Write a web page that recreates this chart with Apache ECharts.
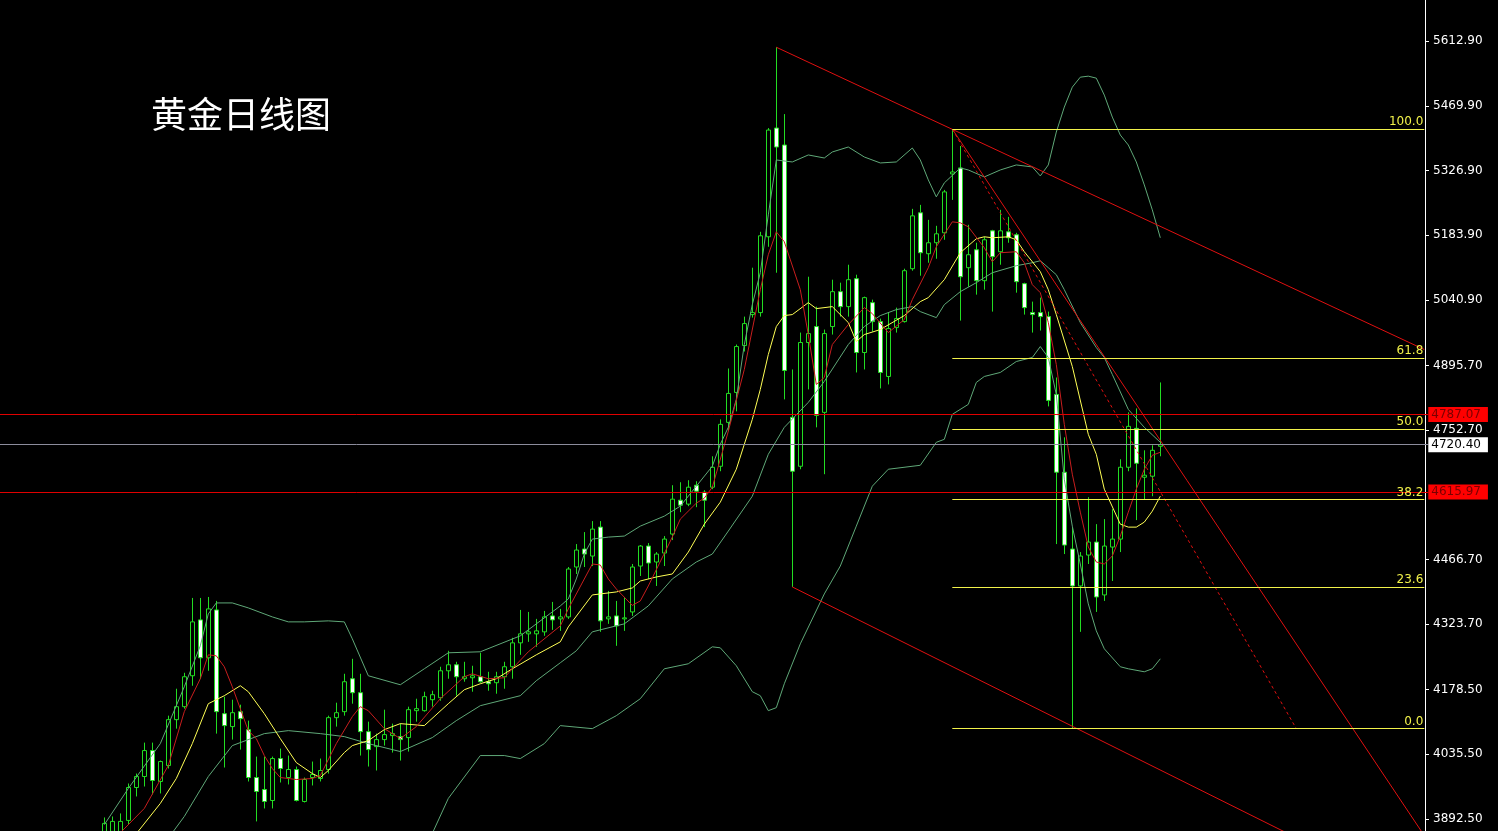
<!DOCTYPE html>
<html><head><meta charset="utf-8">
<script src="https://cdn.jsdelivr.net/npm/echarts@6/dist/echarts.min.js"></script>
<style>html,body{margin:0;padding:0;background:#000;}#c{width:1498px;height:831px;}</style>
</head><body><div id="c"></div>
<script>
// ---------- DATA (daily gold candles) ----------
const candleOpen = [3860.7,3865.1,3860.7,3889.4,3962.2,3986.5,4043.9,3975.5,4010.8,4112.3,
4141.0,4209.4,4333.0,4249.1,4355.0,4125.5,4096.9,4130.0,4090.2,3984.3,
3957.8,3933.5,4026.2,3984.3,4002.0,3931.3,3984.3,3982.1,4002.0,4116.7,
4130.0,4202.8,4171.9,4085.8,4052.7,4068.2,4077.0,4074.8,4072.6,4132.2,
4132.2,4156.4,4160.8,4220.4,4233.7,4202.8,4205.0,4207.2,4196.2,4194.0,
4207.2,4229.3,4282.2,4302.1,4302.1,4306.5,4341.8,4335.2,4339.6,4449.9,
4489.7,4474.2,4538.2,4335.2,4341.8,4335.2,4350.6,4452.1,4496.3,4461.0,
4480.8,4522.8,4597.8,4589.0,4630.9,4615.5,4626.5,4672.8,4769.9,4836.1,
4939.8,5008.3,5012.7,5180.4,5420.9,5383.4,4781.0,4672.8,4946.5,4981.8,
4792.0,4981.8,5059.0,5025.9,5087.7,4924.4,5034.7,4992.8,4871.4,4979.6,
4992.8,5109.8,5233.4,5142.9,5167.2,5189.2,5319.4,5332.7,5112.0,5151.7,
5083.3,5193.6,5147.3,5191.4,5184.8,5076.7,5012.7,5012.7,5003.8,4831.7,
4659.6,4489.7,4408.0,4476.4,4505.1,4388.2,4494.1,4511.7,4670.6,4756.7,
4648.5,4650.8,4717.0];
const candleClose = [3882.8,3887.2,3887.2,3962.2,3986.5,4043.9,3977.7,4019.6,4112.3,4141.0,
4207.2,4328.6,4249.1,4357.3,4130.0,4099.1,4127.7,4114.5,3984.3,3953.4,
3931.3,4026.2,4004.2,4002.0,3933.5,3979.9,3990.9,3999.8,4116.7,4127.7,
4196.2,4171.9,4085.8,4046.1,4068.2,4079.2,4081.4,4068.2,4134.4,4136.6,
4163.1,4167.5,4220.4,4233.7,4207.2,4207.2,4209.4,4196.2,4191.7,4207.2,
4229.3,4282.2,4302.1,4306.5,4308.7,4339.6,4333.0,4339.6,4445.5,4487.5,
4478.6,4533.8,4330.8,4339.6,4319.7,4337.4,4449.9,4496.3,4458.8,4478.6,
4511.7,4600.0,4586.8,4626.5,4617.7,4597.8,4670.6,4765.5,4833.9,4937.6,
4988.4,5012.7,5182.6,5416.5,5379.0,4884.7,4661.8,4946.5,4966.3,4785.4,
4966.3,5059.0,5025.9,5085.5,4924.4,5045.8,4992.8,4880.3,4977.4,4999.4,
5105.4,5226.7,5145.1,5167.2,5187.0,5279.7,5323.8,5092.1,5140.7,5083.3,
5173.8,5136.3,5193.6,5178.2,5081.1,5023.7,5008.3,5003.8,4818.5,4659.6,
4498.5,4408.0,4474.2,4505.1,4383.7,4496.3,4511.7,4670.6,4761.1,4679.4,
4653.0,4708.1,4720.4];
const candleLow = [3849.7,3854.1,3854.1,3880.6,3942.4,3964.4,3946.8,3949.0,4004.2,4092.4,
4136.6,4187.3,4202.8,4220.4,4081.4,4006.4,4068.2,4046.1,3975.5,3887.2,
3915.9,3915.9,3973.3,3968.9,3931.3,3929.1,3966.7,3975.5,3993.1,4096.9,
4121.1,4147.6,4032.9,4008.6,3999.8,4054.9,4039.5,4021.8,4041.7,4107.9,
4130.0,4141.0,4154.2,4202.8,4165.3,4196.2,4174.1,4194.0,4176.3,4169.7,
4180.7,4202.8,4255.7,4284.4,4273.4,4297.7,4310.9,4308.7,4335.2,4434.5,
4449.9,4452.1,4306.5,4324.2,4275.6,4308.7,4341.8,4430.1,4423.5,4408.0,
4452.1,4509.5,4571.3,4584.6,4582.3,4538.2,4622.1,4661.8,4750.1,4794.2,
4926.6,5001.6,5003.8,5158.3,5100.9,4820.7,4405.8,4666.2,4842.8,4758.9,
4655.2,4964.1,5003.8,5003.8,4880.3,4886.9,4970.7,4845.0,4853.8,4968.5,
4990.6,5105.4,5094.3,5123.0,5131.8,5173.8,5262.0,4995.0,5070.1,5052.4,
5063.4,5014.9,5118.6,5167.2,5056.8,5008.3,4968.5,4973.0,4805.2,4500.7,
4478.6,4092.4,4306.5,4456.6,4350.6,4374.9,4419.0,4483.0,4661.8,4553.7,
4600.0,4606.6,4694.9];
const candleHigh = [3896.0,3898.2,3904.9,3971.1,3993.1,4061.5,4061.5,4021.8,4121.1,4180.7,
4216.0,4381.5,4381.5,4383.7,4374.9,4163.1,4156.4,4145.4,4110.1,4030.6,
4030.6,4030.6,4048.3,4032.9,4008.6,3984.3,4019.6,4026.2,4121.1,4149.8,
4213.8,4246.9,4213.8,4107.9,4081.4,4134.4,4103.5,4103.5,4141.0,4158.6,
4174.1,4176.3,4229.3,4264.6,4240.3,4240.3,4231.5,4260.2,4218.2,4218.2,
4240.3,4293.3,4355.0,4350.6,4335.2,4352.8,4372.7,4357.3,4449.9,4500.7,
4527.2,4551.5,4551.5,4397.0,4374.9,4383.7,4456.6,4498.5,4502.9,4483.0,
4518.4,4630.9,4637.5,4641.9,4639.7,4619.9,4694.9,4776.5,4889.1,4942.1,
5003.8,5112.0,5191.4,5420.9,5599.7,5451.8,4886.9,4968.5,5092.1,5025.9,
4975.2,5085.5,5078.9,5118.6,5096.5,5048.0,5041.4,4999.4,5012.7,5023.7,
5109.8,5242.2,5251.0,5217.9,5204.7,5284.1,5418.7,5381.2,5206.9,5167.2,
5180.4,5195.8,5240.0,5224.5,5189.2,5078.9,5037.0,5045.8,5014.9,4869.2,
4736.8,4538.2,4483.0,4604.4,4544.8,4555.9,4577.9,4688.3,4792.0,4800.8,
4708.1,4719.2,4858.2];

// Indicator lines as [candle index, value]
const maRed = [[2,3862],[5,3915.9],[8,4010.8],[10,4130.0],[12,4202.8],[13,4255.7],[14,4253.5],[15,4229.3],[16,4185.1],[18,4088.0],[19,4070.4],[20,4032.9],[21,4004.2],[22,3984.3],[24,3979.9],[26,3982.1],[27,3988.7],[29,4059.3],[31,4118.9],[32,4141.0],[33,4132.2],[35,4092.4],[37,4070.4],[39,4096.9],[42,4158.6],[45,4207.2],[46,4213.8],[48,4202.8],[50,4205.0],[51,4224.8],[53,4262.4],[57,4319.7],[58,4357.3],[61,4456.6],[62,4454.4],[63,4423.5],[64,4401.4],[66,4365.0],[67,4374.9],[68,4408.0],[71,4516.1],[72,4555.9],[74,4591.2],[75,4602.2],[76,4626.5],[78,4750.1],[80,4886.9],[82,5063.4],[83,5140.7],[84,5191.4],[85,5169.4],[87,5063.4],[88,4964.1],[89,4853.8],[90,4869.2],[91,4942.1],[93,4986.2],[95,5023.7],[96,5010.5],[98,4968.5],[100,4997.2],[101,5041.4],[103,5112.0],[104,5158.3],[106,5213.5],[107,5211.3],[108,5202.5],[110,5156.1],[111,5125.2],[112,5145.1],[114,5147.3],[115,5123.0],[116,5074.5],[117,5056.8],[118,4990.6],[119,4897.9],[120,4765.5],[121,4655.2],[122,4571.3],[123,4494.1],[124,4461.0],[125,4456.6],[126,4474.2],[127,4518.4],[128,4571.3],[129,4622.1],[130,4666.2],[131,4697.1],[132,4703.7]];
const maYellow = [[4,3860],[7,3926.9],[9,3982.1],[11,4059.3],[13,4147.6],[15,4165.3],[17,4187.3],[18,4174.1],[20,4125.5],[22,4070.4],[24,4017.4],[26,3993.1],[27,3984.3],[28,3999.8],[30,4039.5],[31,4054.9],[33,4066.0],[35,4090.2],[37,4103.5],[40,4099.1],[43,4147.6],[45,4178.5],[47,4191.7],[49,4202.8],[51,4224.8],[54,4255.7],[57,4284.4],[58,4317.5],[61,4388.2],[64,4394.8],[66,4403.6],[67,4419.0],[69,4427.9],[71,4434.5],[73,4483.0],[75,4544.8],[77,4593.4],[79,4666.2],[81,4776.5],[82,4842.8],[83,4920.0],[84,4981.8],[85,5006.1],[86,5008.3],[88,5034.7],[89,5021.5],[91,5025.9],[93,4990.6],[94,4948.7],[95,4964.1],[97,4975.2],[100,5006.1],[102,5037.0],[103,5045.8],[105,5085.5],[107,5145.1],[109,5176.0],[110,5180.4],[111,5178.2],[113,5180.4],[114,5173.8],[115,5147.3],[117,5103.2],[118,5063.4],[119,5008.3],[121,4893.5],[123,4743.4],[124,4699.3],[125,4622.1],[127,4544.8],[128,4538.2],[129,4538.2],[130,4549.2],[131,4573.5],[132,4606.6]];
const bollUpper = [[0,3880],[3,3960.0],[7,4059.3],[10,4185.1],[12,4275.6],[13,4346.2],[14,4370.5],[16,4370.5],[18,4359.5],[21,4339.6],[23,4328.6],[25,4328.6],[28,4330.8],[30,4328.6],[31,4291.1],[33,4209.4],[37,4189.5],[40,4224.8],[43,4260.2],[47,4262.4],[52,4297.7],[57,4363.9],[58,4379.3],[59,4423.5],[60,4478.6],[61,4511.7],[63,4516.1],[65,4518.4],[67,4540.4],[70,4562.5],[72,4584.6],[74,4628.7],[76,4672.8],[77,4721.4],[78,4758.9],[79,4820.7],[80,4942.1],[81,5030.3],[82,5100.9],[83,5228.9],[84,5350.3],[86,5345.9],[88,5361.4],[90,5354.7],[91,5368.0],[93,5379.0],[95,5356.9],[97,5343.7],[99,5345.9],[101,5376.8],[102,5350.3],[103,5306.2],[104,5268.7],[105,5299.6],[107,5332.7],[108,5328.2],[110,5312.8],[112,5328.2],[114,5339.3],[116,5334.9],[117,5315.0],[118,5339.3],[119,5412.1],[120,5467.3],[121,5511.4],[122,5533.5],[123,5535.7],[124,5531.3],[125,5493.8],[126,5445.2],[127,5405.5],[128,5383.4],[129,5345.9],[130,5295.1],[131,5240.0],[132,5178.2]];
const bollMid = [[8,3850],[10,3898.2],[13,3986.5],[16,4054.9],[20,4081.4],[23,4088.0],[27,4081.4],[30,4074.8],[33,4059.3],[37,4041.7],[41,4072.6],[44,4110.1],[47,4143.2],[52,4165.3],[54,4198.4],[57,4238.1],[59,4264.6],[61,4306.5],[65,4324.2],[68,4363.9],[71,4423.5],[74,4461.0],[76,4478.6],[78,4529.4],[81,4606.6],[83,4699.3],[85,4758.9],[88,4814.1],[90,4860.4],[93,4942.1],[95,4981.8],[97,5006.1],[99,5019.3],[101,5025.9],[102,5014.9],[104,5001.6],[105,5030.3],[107,5059.0],[109,5078.9],[111,5100.9],[114,5116.4],[116,5123.0],[117,5127.4],[118,5112.0],[119,5096.5],[120,5063.4],[122,4990.6],[124,4935.4],[125,4913.4],[126,4875.9],[128,4798.6],[130,4758.9],[132,4725.8]];
const bollLower = [[41,3860.7],[43,3938.0],[47,4032.9],[50,4032.9],[52,4026.2],[55,4059.3],[57,4099.1],[61,4092.4],[64,4121.1],[67,4158.6],[70,4224.8],[73,4235.9],[76,4273.4],[77,4271.2],[79,4231.5],[81,4174.1],[82,4165.3],[83,4132.2],[84,4138.8],[85,4191.7],[87,4280.0],[90,4390.4],[92,4452.1],[94,4540.4],[96,4628.7],[98,4666.2],[102,4675.0],[104,4725.8],[105,4732.4],[106,4787.6],[108,4809.7],[109,4858.2],[110,4871.4],[112,4880.3],[114,4904.5],[116,4913.4],[117,4937.6],[118,4913.4],[119,4831.7],[120,4644.1],[121,4540.4],[122,4456.6],[123,4368.3],[124,4308.7],[125,4269.0],[127,4229.3],[128,4224.8],[130,4218.2],[131,4224.8],[132,4246.9]];

// Fibonacci retracement (from the 5418.7 high to the 4092.4 low)
const fibLabels = ['100.0', '61.8', '50.0', '38.2', '23.6', '0.0'];
const fibValues = [5418.7, 4912.1, 4755.6, 4599.0, 4405.4, 4092.4];
const fibSpan = [106, 165];

// Trend lines: [candle index, price] end points
const trendLines = [
  { from: [84, 5599.7], to: [165, 4931.0], dashed: false },
  { from: [86, 4405.8], to: [150, 3842.4], dashed: false },
  { from: [106, 5418.7], to: [165, 3855.8], dashed: false },
  { from: [106, 5418.7], to: [149, 4092.4], dashed: true }
];

// Horizontal price lines with axis tags
const priceLineValues = [4787.07, 4720.40, 4615.97];
const priceLineKinds = ['red', 'grey', 'red'];

// Axis tick labels
const yTicks = [5612.90, 5469.90, 5326.90, 5183.90, 5040.90, 4895.70, 4752.70, 4466.70, 4323.70, 4178.50, 4035.50, 3892.50];

const chartTitle = '黄金日线图';

// ---------- CHART ----------
const PAD = 13, SLOTS = 179;
const Y_MAX = 5704.17, Y_MIN = 3733.28;
const categories = Array.from({ length: SLOTS }, (_, s) => 'D' + (s - PAD + 1));
const candles = categories.map((_, s) => {
  const i = s - PAD;
  return (i >= 0 && i < candleOpen.length) ? [candleOpen[i], candleClose[i], candleLow[i], candleHigh[i]] : '-';
});
const toSlots = arr => arr.map(p => [p[0] + PAD, p[1]]);

const GREEN = '#22dd22';
const lineFont = 'DejaVu Sans';

const markData = [];
trendLines.forEach(t => {
  markData.push([
    { coord: [t.from[0] + PAD, t.from[1]], lineStyle: { color: '#e01010', width: 1, type: t.dashed ? [3, 3] : 'solid' }, label: { show: false } },
    { coord: [t.to[0] + PAD, t.to[1]] }
  ]);
});
fibValues.forEach((v, k) => {
  markData.push([
    { coord: [fibSpan[0] + PAD, v], lineStyle: { color: '#f2f24a', width: 1, type: 'solid' },
      label: { show: true, position: 'insideEndTop', formatter: fibLabels[k], color: '#f2f24a', fontFamily: lineFont, fontSize: 12, distance: 1 } },
    { coord: [fibSpan[1] + PAD, v] }
  ]);
});
priceLineValues.forEach((v, k) => {
  const red = priceLineKinds[k] === 'red';
  markData.push({
    yAxis: v,
    lineStyle: { color: red ? '#e00000' : '#8c8c9c', width: 1, type: 'solid' },
    label: {
      show: true, position: 'end', distance: 0, formatter: v.toFixed(2),
      backgroundColor: red ? '#ff0000' : '#ffffff', color: red ? '#7a0000' : '#000000',
      fontFamily: lineFont, fontSize: 12, padding: [2, 7, 1, 3]
    }
  });
});

const lineSeries = (name, data, color) => ({
  name, type: 'line', data: toSlots(data), symbol: 'none', showSymbol: false,
  connectNulls: true, smooth: false, clip: true, z: 3, silent: true,
  lineStyle: { color, width: 1 }
});

const chart = echarts.init(document.getElementById('c'));
chart.setOption({
  animation: false,
  backgroundColor: '#000000',
  title: {
    text: chartTitle, left: 151, top: 96, padding: 0,
    textStyle: { color: '#ffffff', fontSize: 36, fontWeight: 'normal', fontFamily: 'Noto Sans CJK SC' }
  },
  grid: { left: -3.7, right: 69.7, top: 0, bottom: -60, containLabel: false, outerBoundsMode: 'none' },
  xAxis: { type: 'category', data: categories, boundaryGap: true, show: false },
  yAxis: {
    type: 'value', position: 'right', min: Y_MIN, max: Y_MAX, offset: -3.3,
    axisLine: { show: true, lineStyle: { color: '#ffffff', width: 1 } },
    axisTick: { show: true, customValues: yTicks, length: 4, lineStyle: { color: '#ffffff' } },
    axisLabel: { show: true, customValues: yTicks, formatter: v => Number(v).toFixed(2), color: '#ffffff', fontFamily: lineFont, fontSize: 12, margin: 8 },
    splitLine: { show: false }
  },
  series: [
    {
      name: 'XAUUSD', type: 'candlestick', data: candles, barWidth: 5, clip: true, z: 2,
      itemStyle: { color: '#000000', color0: '#ffffff', borderColor: GREEN, borderColor0: GREEN, borderColorDoji: GREEN, borderWidth: 1 },
      markLine: { symbol: ['none', 'none'], silent: true, animation: false, label: { show: false }, data: markData }
    },
    lineSeries('BollUpper', bollUpper, '#5fa878'),
    lineSeries('BollMid', bollMid, '#5fa878'),
    lineSeries('BollLower', bollLower, '#5fa878'),
    lineSeries('MA10', maYellow, '#ffff55'),
    lineSeries('MA5', maRed, '#c81e1e')
  ]
});
</script>
</body></html>
